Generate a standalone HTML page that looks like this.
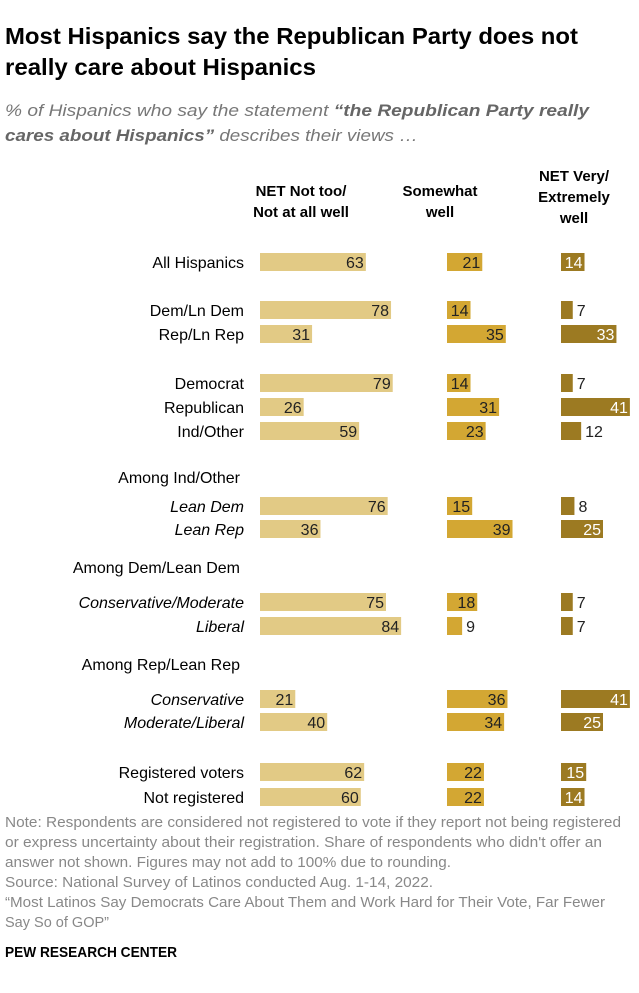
<!DOCTYPE html>
<html><head><meta charset="utf-8">
<style>
body{margin:0;background:#fff;width:639px;height:988px;overflow:hidden;font-family:"Liberation Sans",Arial,sans-serif;}
svg text{font-family:"Liberation Sans",Arial,sans-serif;}
</style></head>
<body>
<svg id="chart" width="639" height="988" xmlns="http://www.w3.org/2000/svg">
<text x="5" y="44" font-size="23" font-weight="bold" fill="#000" textLength="573" lengthAdjust="spacingAndGlyphs">Most Hispanics say the Republican Party does not</text>
<text x="5" y="75" font-size="23" font-weight="bold" fill="#000" textLength="311" lengthAdjust="spacingAndGlyphs">really care about Hispanics</text>
<text x="5" y="116" font-size="17" font-style="italic" fill="#777" textLength="584" lengthAdjust="spacingAndGlyphs">% of Hispanics who say the statement <tspan font-weight="bold" fill="#666">“the Republican Party really</tspan></text>
<text x="5" y="141" font-size="17" font-style="italic" fill="#777" textLength="413" lengthAdjust="spacingAndGlyphs"><tspan font-weight="bold" fill="#666">cares about Hispanics”</tspan> describes their views …</text>
<g font-size="15" font-weight="bold" text-anchor="middle" fill="#000">
<text x="301" y="196">NET Not too/</text>
<text x="301" y="217">Not at all well</text>
<text x="440" y="196">Somewhat</text>
<text x="440" y="217">well</text>
<text x="574" y="181">NET Very/</text>
<text x="574" y="202">Extremely</text>
<text x="574" y="223">well</text>
</g>
<g id="rows"></g>
<g font-size="15" fill="#888" lengthAdjust="spacingAndGlyphs">
<text x="5" y="827" textLength="616" lengthAdjust="spacingAndGlyphs">Note: Respondents are considered not registered to vote if they report not being registered</text>
<text x="5" y="847" textLength="597" lengthAdjust="spacingAndGlyphs">or express uncertainty about their registration. Share of respondents who didn't offer an</text>
<text x="5" y="867" textLength="446" lengthAdjust="spacingAndGlyphs">answer not shown. Figures may not add to 100% due to rounding.</text>
<text x="5" y="887" textLength="428" lengthAdjust="spacingAndGlyphs">Source: National Survey of Latinos conducted Aug. 1-14, 2022.</text>
<text x="5" y="907" textLength="600" lengthAdjust="spacingAndGlyphs">“Most Latinos Say Democrats Care About Them and Work Hard for Their Vote, Far Fewer</text>
<text x="5" y="927" textLength="104" lengthAdjust="spacingAndGlyphs">Say So of GOP”</text>
</g>
<text x="5" y="957" font-size="15" font-weight="bold" fill="#000" textLength="172" lengthAdjust="spacingAndGlyphs">PEW RESEARCH CENTER</text>
</svg>
<script>
const categories=["All Hispanics","Dem/Ln Dem","Rep/Ln Rep","Democrat","Republican","Ind/Other","Lean Dem","Lean Rep","Conservative/Moderate","Liberal","Conservative","Moderate/Liberal","Registered voters","Not registered"];
const italicRows=[false,false,false,false,false,false,true,true,true,true,true,true,false,false];
const notWell=[63,78,31,79,26,59,76,36,75,84,21,40,62,60];
const somewhat=[21,14,35,14,31,23,15,39,18,9,36,34,22,22];
const veryWell=[14,7,33,7,41,12,8,25,7,7,41,25,15,14];
const sections=["Among Ind/Other","Among Dem/Lean Dem","Among Rep/Lean Rep"];
const rowY=[262,310,334,383,407,431,506,529,602,626,699,722,772,797];
const sectionY=[477,567,664];
const scale=v=>v*1.68;
const cols=[{x:260,vals:notWell,color:"#E2CA85",txt:"#222",name:"not-well"},
{x:447,vals:somewhat,color:"#D3A733",txt:"#222",name:"somewhat"},
{x:561,vals:veryWell,color:"#9C7A22",txt:"#fff",name:"very-well"}];
const NS="http://www.w3.org/2000/svg";
const g=document.getElementById("rows");
function mk(tag,attrs,text){const e=document.createElementNS(NS,tag);for(const k in attrs)e.setAttribute(k,attrs[k]);if(text!==undefined)e.textContent=text;g.appendChild(e);return e;}
categories.forEach((c,i)=>{
 const y=rowY[i];
 const lab=mk("text",{x:244,y:y+6,"font-size":16,"text-anchor":"end",fill:"#000","font-style":italicRows[i]?"italic":"normal"},c);
 
 
 cols.forEach(col=>{
  const v=col.vals[i];const w=scale(v);
  const r=mk("rect",{x:col.x,y:y-9,width:w,height:18,fill:col.color});
  
  
  let t;
  if(w>21){t=mk("text",{x:col.x+w-2,y:y+6,"font-size":16,"text-anchor":"end",fill:col.txt},v);}
  else{t=mk("text",{x:col.x+w+4,y:y+6,"font-size":16,"text-anchor":"start",fill:"#222"},v);}
  
  
 });
});
sections.forEach((s,i)=>{
 const t=mk("text",{x:240,y:sectionY[i]+6,"font-size":16,"text-anchor":"end",fill:"#000"},s);
 
 
});
</script>
</body></html>
